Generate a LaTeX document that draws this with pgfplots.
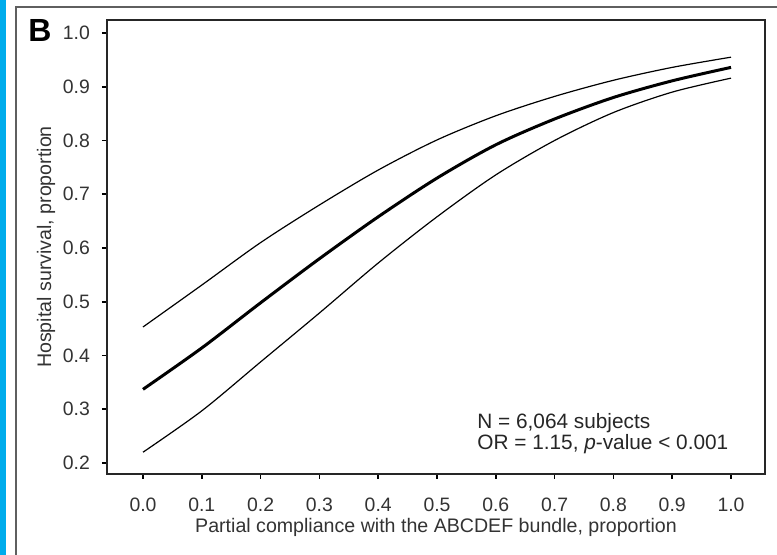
\documentclass[border=0pt]{standalone}
\usepackage{pgfplots}
\pgfplotsset{compat=1.18}
\usepackage{fontspec}
\setmainfont{Liberation Sans}
\definecolor{stripblue}{RGB}{0,172,236}
\definecolor{framegray}{RGB}{95,95,95}

% Fitted survival curve with its 95% confidence band
\pgfplotstableread{
x     fit    upper  lower
0.0   0.337  0.453  0.220
0.1   0.414  0.531  0.297
0.2   0.498  0.610  0.388
0.3   0.580  0.680  0.479
0.4   0.658  0.745  0.572
0.5   0.730  0.801  0.658
0.6   0.792  0.846  0.736
0.7   0.840  0.882  0.800
0.8   0.880  0.912  0.852
0.9   0.911  0.936  0.890
1.0   0.936  0.955  0.916
}\survival

\begin{document}
\begin{tikzpicture}
\useasboundingbox[fill=white] (0,0) rectangle (388.5pt,277.5pt);
% panel decoration
\fill[stripblue] (0,0) rectangle (3pt,277.5pt);
\draw[framegray, line width=1pt] (8pt,0) -- (8pt,274pt) -- (388.5pt,274pt);
\node[anchor=base west, inner sep=0pt, font=\fontsize{16}{18}\selectfont\bfseries] at (14pt,256.5pt) {B};

\begin{axis}[
  at={(53.5pt,40.5pt)}, anchor=south west,
  scale only axis, width=329pt, height=227pt,
  xmin=-0.0612, xmax=1.0578,
  ymin=0.1795, ymax=1.0242,
  xtick={0,0.1,...,1.0}, ytick={0.2,0.3,...,1.0},
  xticklabels={0.0,0.1,0.2,0.3,0.4,0.5,0.6,0.7,0.8,0.9,1.0},
  yticklabels={0.2,0.3,0.4,0.5,0.6,0.7,0.8,0.9,1.0},
  tick pos=left, tick align=outside,
  major tick length=2.5pt,
  every tick/.style={black, line width=0.8pt},
  axis line style={black!85, line width=0.9pt},
  tick label style={font=\fontsize{9.7}{11}\selectfont, text=black!80},
  /pgf/number format/assume math mode=true,
  xticklabel style={yshift=-6pt},
  yticklabel style={xshift=-2.5pt},
  xlabel={Partial compliance with the ABCDEF bundle, proportion},
  ylabel={Hospital survival, proportion},
  label style={font=\fontsize{9.8}{11}\selectfont, text=black!80},
  xlabel style={at={(axis description cs:0.5,0)}, anchor=base, yshift=-29.5pt},
  ylabel style={at={(axis description cs:0,0.5)}, anchor=center, yshift=30.5pt},
  clip=false,
]
\addplot[black, line width=0.6pt, smooth] table[x=x, y=upper] {\survival};
\addplot[black, line width=0.6pt, smooth] table[x=x, y=lower] {\survival};
\addplot[black, line width=1.5pt, smooth] table[x=x, y=fit] {\survival};

\node[anchor=base west, inner sep=0pt, font=\fontsize{10.4}{12}\selectfont, text=black!85]
  at (rel axis cs:0.5623,0.0991) {N = 6,064 subjects};
\node[anchor=base west, inner sep=0pt, font=\fontsize{10.4}{12}\selectfont, text=black!85]
  at (rel axis cs:0.5623,0.0529) {OR = 1.15, \textit{p}-value < 0.001};
\end{axis}
\end{tikzpicture}
\end{document}
